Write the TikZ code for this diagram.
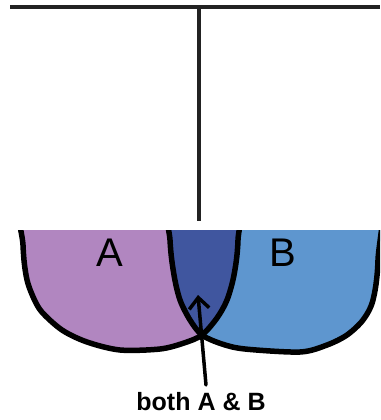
\documentclass[tikz,border=0pt]{standalone}
\usepackage{fontspec}
\setmainfont{Liberation Sans}
\usetikzlibrary{arrows.meta}
\definecolor{purpA}{HTML}{B186C0}
\definecolor{blueB}{HTML}{5E96CF}
\definecolor{lensC}{HTML}{40569F}
\definecolor{ink}{HTML}{222222}
\tikzset{
  rule/.style={draw=ink,line width=3.6pt},
  outline/.style={draw=black,line width=5.5pt,line join=round},
  biglabel/.style={font=\fontsize{40}{40}\selectfont,inner sep=0pt},
  caption/.style={font=\bfseries\fontsize{25}{25}\selectfont,inner sep=0pt},
  pointer/.style={draw=black,line width=3.5pt,line cap=round,-{Straight Barb[length=11pt,width=20pt,line width=3.5pt]}}
}
\begin{document}
\begin{tikzpicture}[x=1pt,y=-1pt]
\useasboundingbox (0,0) rectangle (380,420);
\fill[white] (0,0) rectangle (380,420);
% top T lines
\coordinate (hl) at (10,7);
\coordinate (hr) at (380,7);
\coordinate (vt) at (199,7);
\coordinate (vb) at (199,221);
\draw[rule] (hl) -- (hr);
\draw[rule,line width=4pt] (vt) -- (vb);
% Venn shapes
\def\shapeA{plot[smooth cycle,tension=0.5] coordinates {(21,160) (23,245) (26,275) (31,292) (41,311) (62,330) (87,342) (120,350) (160,349) (184,343) (202,335) (217,318) (227,300) (234,275) (238,240) (238,160) (130,110)}}
\def\shapeB{plot[smooth cycle,tension=0.5] coordinates {(168,160) (170,240) (174,275) (180,300) (190,320) (202,335) (222,344) (245,349) (300,352) (327,345) (347,335) (363,320) (373,300) (378,260) (378,160) (275,110)}}
\begin{scope}
\clip (0,230) rectangle (380,420);
\fill[purpA] \shapeA;
\fill[blueB] \shapeB;
\begin{scope}
\clip \shapeA;
\fill[lensC] \shapeB;
\end{scope}
\draw[outline] \shapeA;
\draw[outline] \shapeB;
\end{scope}
% labels
\node[biglabel] (la) at (110,253) {A};
\node[biglabel] (lb) at (283,253) {B};
\node[caption,anchor=base] (cap) at (201,410) {both A \& B};
\coordinate (tail) at (206,385);
\coordinate (tip) at (198,295);
\draw[pointer] (tail) -- (tip);
\end{tikzpicture}
\end{document}
